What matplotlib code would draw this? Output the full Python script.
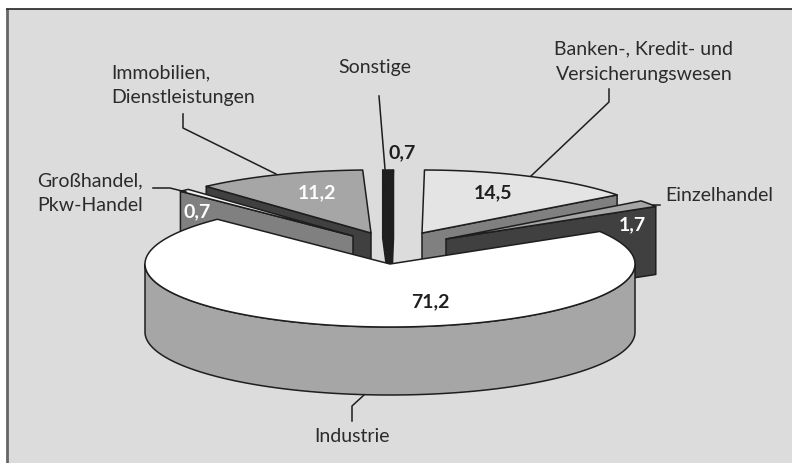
import numpy as np
import matplotlib
matplotlib.use("Agg")
import matplotlib.pyplot as plt
from matplotlib.patches import Polygon, Rectangle

# Data, clockwise starting at the Industrie slice
categories = ["Industrie", "Großhandel, Pkw-Handel", "Immobilien, Dienstleistungen",
              "Sonstige", "Banken-, Kredit- und Versicherungswesen", "Einzelhandel"]
values = [71.2, 0.7, 11.2, 0.7, 14.5, 1.7]
value_labels = ["71,2", "0,7", "11,2", "0,7", "14,5", "1,7"]

# Layout / style
START = 58.9
RX, RY, DEPTH = 245, 63, 68
apex = [(390, 265), (353, 237), (371, 234), (391, 234), (422, 234), (446, 240)]
top_col = ["#ffffff", "#f2f2f2", "#a6a6a6", "#1f1f1f", "#e4e4e4", "#a6a6a6"]
wall_col = ["#a6a6a6", "#808080", "#404040", "#1f1f1f", "#808080", "#404040"]
draw_order = [2, 3, 1, 4, 5, 0]
EDGE = "#1e1e1e"
BG = "#dcdcdc"
value_pos = [(430, 302), (197, 212), (317, 193), (402, 153), (493, 193), (632, 225)]
value_col = ["#1f1f1f", "white", "white", "#1f1f1f", "#1f1f1f", "white"]
FONT = "Lato"

fig = plt.figure(figsize=(7.92, 4.64), dpi=100, facecolor="white")
ax = fig.add_axes([0, 0, 1, 1])
ax.set_xlim(0, 792)
ax.set_ylim(464, 0)
ax.axis("off")

ax.add_patch(Rectangle((6.5, 9.5), 800, 470, fc=BG, ec="none", zorder=0))
ax.plot([7, 7], [10, 464], color="#666666", lw=2, zorder=1, solid_capstyle="butt")
ax.plot([6, 792], [10, 10], color="#222222", lw=1.2, zorder=1, solid_capstyle="butt")


def arc(ang0, ang1, c):
    t = np.radians(np.linspace(ang0, ang1, max(int(abs(ang1 - ang0)) * 2, 6)))
    return np.column_stack([c[0] + RX * np.sin(t), c[1] - RY * np.cos(t)])


spans = 3.6 * np.array(values)
starts = START + np.concatenate([[0], np.cumsum(spans)[:-1]])
z = 2
drop = np.array([0, DEPTH])
for i in draw_order:
    a0, a1 = starts[i], starts[i] + spans[i]
    c = np.array(apex[i], float)
    rim = arc(a0, a1, c)
    kw = dict(fc=wall_col[i], ec=EDGE, lw=1.1, joinstyle="round")
    # outer curved wall: only the part facing the viewer
    lo, hi = max(a0, 90), min(a1, 270)
    if hi > lo:
        front = arc(lo, hi, c)
        ax.add_patch(Polygon(np.vstack([front, (front + drop)[::-1]]), closed=True, zorder=z, **kw))
    # radial walls that face the viewer
    if np.cos(np.radians(a0 - 90)) < 0:
        p = rim[0]
        ax.add_patch(Polygon([c, p, p + drop, c + drop], closed=True, zorder=z, **kw))
    if np.cos(np.radians(a1 + 90)) < 0:
        p = rim[-1]
        ax.add_patch(Polygon([c, p, p + drop, c + drop], closed=True, zorder=z, **kw))
    # top face
    ax.add_patch(Polygon(np.vstack([c, rim]), closed=True, zorder=z + 1,
                         fc=top_col[i], ec=EDGE, lw=1.1, joinstyle="round"))
    z += 2

# Leader lines
leaders = [
    [(183, 115), (183, 129), (276, 175)],
    [(153, 189), (170, 189), (186, 193)],
    [(379, 97), (385, 170)],
    [(609, 90), (609, 103), (531, 177)],
    [(653, 206), (660, 206)],
    [(352, 422), (352, 407), (364, 396)],
]
for line in leaders:
    xs, ys = zip(*line)
    ax.plot(xs, ys, color=EDGE, lw=1.1, zorder=30)

# Category labels
tkw = dict(family=FONT, fontsize=14, color="#2b2b2b", zorder=31, va="baseline")
ax.text(111, 78, "Immobilien,", ha="left", **tkw)
ax.text(111, 103, "Dienstleistungen", ha="left", **tkw)
ax.text(37, 186, "Großhandel,", ha="left", **tkw)
ax.text(37, 211, "Pkw-Handel", ha="left", **tkw)
ax.text(375, 73, "Sonstige", ha="center", **tkw)
ax.text(644, 54, "Banken-, Kredit- und", ha="center", **tkw)
ax.text(644, 80, "Versicherungswesen", ha="center", **tkw)
ax.text(665, 201, "Einzelhandel", ha="left", **tkw)
ax.text(352, 442, "Industrie", ha="center", **tkw)

# Value labels
for lab, pos, col in zip(value_labels, value_pos, value_col):
    ax.text(pos[0], pos[1], lab, family=FONT, fontsize=14, fontweight="bold",
            color=col, ha="center", va="center", zorder=32)

fig.savefig("out.png", dpi=100, facecolor="white")
